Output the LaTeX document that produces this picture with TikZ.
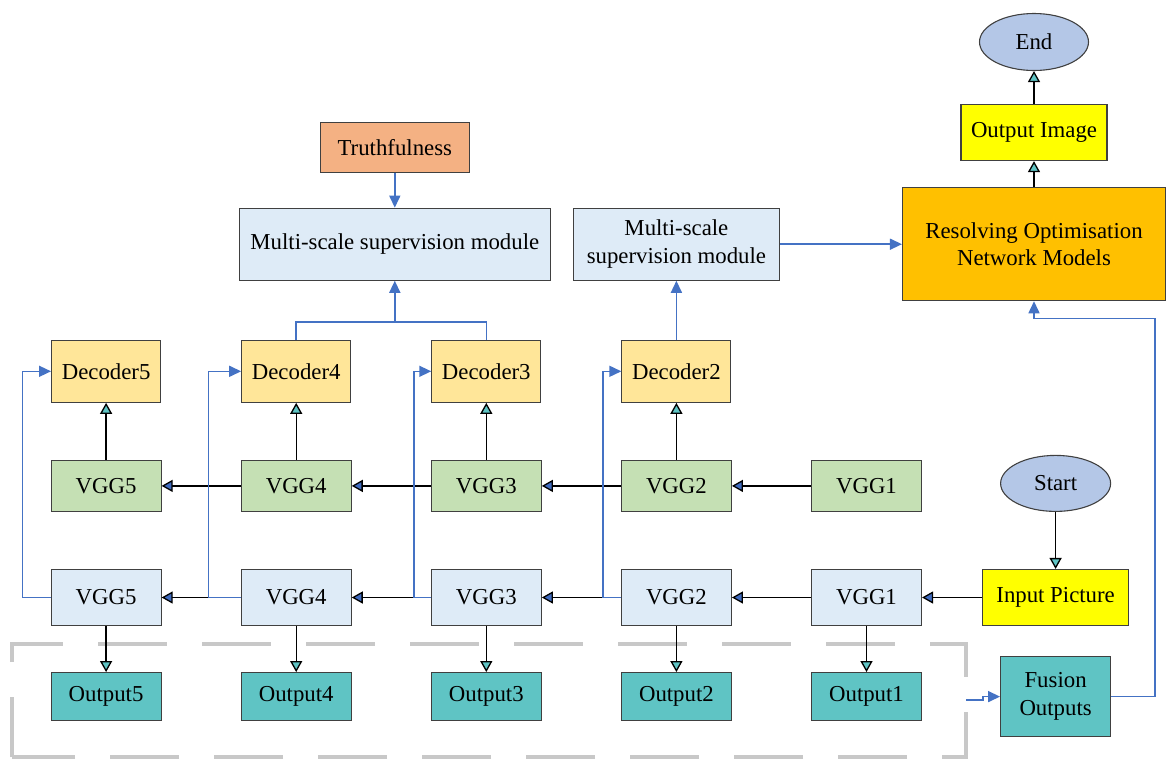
\documentclass[tikz,border=0pt]{standalone}
\usepackage{fontspec}
\setmainfont{Liberation Serif}
\usetikzlibrary{arrows.meta,positioning,shapes.geometric}

\definecolor{edgegray}{HTML}{404040}
\definecolor{decfill}{HTML}{FFE699}
\definecolor{greenfill}{HTML}{C5E0B4}
\definecolor{bluefill}{HTML}{DEEBF7}
\definecolor{tealfill}{HTML}{5FC4C4}
\definecolor{truthfill}{HTML}{F4B183}
\definecolor{resfill}{HTML}{FFC000}
\definecolor{imgfill}{HTML}{FFFF00}
\definecolor{termfill}{HTML}{B4C7E7}
\definecolor{linkblue}{HTML}{4472C4}
\definecolor{tipblue}{HTML}{3F6BBF}
\definecolor{dashgray}{HTML}{C8C8C8}

\newcommand{\boxfont}{\fontsize{22.8}{27.5}\selectfont}

\tikzset{
  box/.style={rectangle, draw=edgegray, line width=1.1pt, font=\boxfont, align=center,
    minimum width=110pt, minimum height=56pt},
  dec/.style={box, fill=decfill, minimum width=109pt, minimum height=62pt},
  gvgg/.style={box, fill=greenfill, minimum height=51pt},
  bvgg/.style={box, fill=bluefill},
  outp/.style={box, fill=tealfill, minimum height=48pt},
  msm/.style={box, fill=bluefill, minimum height=72pt},
  term/.style={ellipse, draw=edgegray, line width=1.1pt, fill=termfill, font=\boxfont,
    minimum width=110pt, minimum height=56pt},
  leftarr/.style={black, line width=1.3pt, -{Triangle[fill=tipblue, length=11pt, width=12pt]}},
  tealarr/.style={black, line width=1.3pt, -{Triangle[fill=tealfill, length=11pt, width=12pt]}},
  fbline/.style={linkblue, line width=1.5pt},
  fb/.style={fbline, -{Triangle[length=12pt, width=11pt]}},
  dashbox/.style={draw=dashgray, line width=3.5pt, dash pattern=on 69pt off 35pt, dash phase=9pt}
}

\begin{document}
\begin{tikzpicture}[x=1pt, y=-1pt]
  \useasboundingbox (0,0) rectangle (1169,761);
  \draw[dashbox] (12,757) -- (12,644) -- (966,644) -- (966,757) -- cycle;

  \node[bvgg] (bvgg1) at (866.5,597.5) {VGG1};
  \node[bvgg, left=79pt of bvgg1] (bvgg2) {VGG2};
  \node[bvgg, left=79pt of bvgg2] (bvgg3) {VGG3};
  \node[bvgg, left=79pt of bvgg3] (bvgg4) {VGG4};
  \node[bvgg, left=79pt of bvgg4] (bvgg5) {VGG5};

  \node[gvgg, above=57pt of bvgg1] (gvgg1) {VGG1};
  \node[gvgg, above=57pt of bvgg2] (gvgg2) {VGG2};
  \node[gvgg, above=57pt of bvgg3] (gvgg3) {VGG3};
  \node[gvgg, above=57pt of bvgg4] (gvgg4) {VGG4};
  \node[gvgg, above=57pt of bvgg5] (gvgg5) {VGG5};

  \node[dec, above=57pt of gvgg2] (dec2) {Decoder2};
  \node[dec, above=57pt of gvgg3] (dec3) {Decoder3};
  \node[dec, above=57pt of gvgg4] (dec4) {Decoder4};
  \node[dec, above=57pt of gvgg5] (dec5) {Decoder5};

  \node[outp, below=46pt of bvgg1] (out1) {Output1};
  \node[outp, below=46pt of bvgg2] (out2) {Output2};
  \node[outp, below=46pt of bvgg3] (out3) {Output3};
  \node[outp, below=46pt of bvgg4] (out4) {Output4};
  \node[outp, below=46pt of bvgg5] (out5) {Output5};

  \node[box, fill=imgfill, minimum width=146pt, right=60pt of bvgg1] (input) {Input Picture};
  \node[term, above=57pt of input] (start) {Start};
  \node[outp, minimum height=80pt, below=30pt of input] (fusion) {Fusion\\Outputs};

  \node[msm, minimum width=206pt, above=59pt of dec2] (msm2) {Multi-scale\\supervision module};
  \node[msm, minimum width=311pt, left=22pt of msm2] (msm1) {Multi-scale supervision module};
  \node[box, fill=truthfill, minimum width=149pt, minimum height=50pt, above=35pt of msm1] (truth) {Truthfulness};
  \node[box, fill=resfill, minimum width=263pt, minimum height=113pt, right=122pt of msm2] (res) {Resolving Optimisation\\Network Models};
  \node[box, fill=imgfill, minimum width=146pt, above=26pt of res] (outimg) {Output Image};
  \node[term, minimum width=109pt, minimum height=57pt, above=33pt of outimg] (finish) {End};

  \path[leftarr]
    (input) edge (bvgg1)
    (bvgg1) edge (bvgg2)
    (bvgg2) edge (bvgg3)
    (bvgg3) edge (bvgg4)
    (bvgg4) edge (bvgg5)
    (gvgg1) edge (gvgg2)
    (gvgg2) edge (gvgg3)
    (gvgg3) edge (gvgg4)
    (gvgg4) edge (gvgg5);
  \path[tealarr]
    (gvgg2) edge (dec2)
    (gvgg3) edge (dec3)
    (gvgg4) edge (dec4)
    (gvgg5) edge (dec5)
    (bvgg1) edge (out1)
    (bvgg2) edge (out2)
    (bvgg3) edge (out3)
    (bvgg4) edge (out4)
    (bvgg5) edge (out5)
    (start) edge (input)
    (res) edge (outimg)
    (outimg) edge (finish);

  \draw[fb] (bvgg5.west) -- ++(-28,0) |- (dec5.west);
  \draw[fb] (bvgg4.west) -- ++(-32,0) |- (dec4.west);
  \draw[fb] (bvgg3.west) -- ++(-17,0) |- (dec3.west);
  \draw[fb] (bvgg2.west) -- ++(-18,0) |- (dec2.west);
  \draw[fbline] (dec4.north) -- ++(0,-18) -| (dec3.north);
  \draw[fb] (msm1.south |- dec4.north) ++(0,-18) -- (msm1.south);
  \draw[fb] (truth) -- (msm1);
  \draw[fb] (dec2) -- (msm2);
  \draw[fb] (msm2) -- (res);
  \draw[fb] (fusion.east) -- ++(44,0) |- ([yshift=-17pt]res.south) -- (res.south);
  \coordinate (dashout) at (966,700);
  \draw[fb] (dashout) -- ++(17,0) |- (fusion.west);
\end{tikzpicture}
\end{document}
